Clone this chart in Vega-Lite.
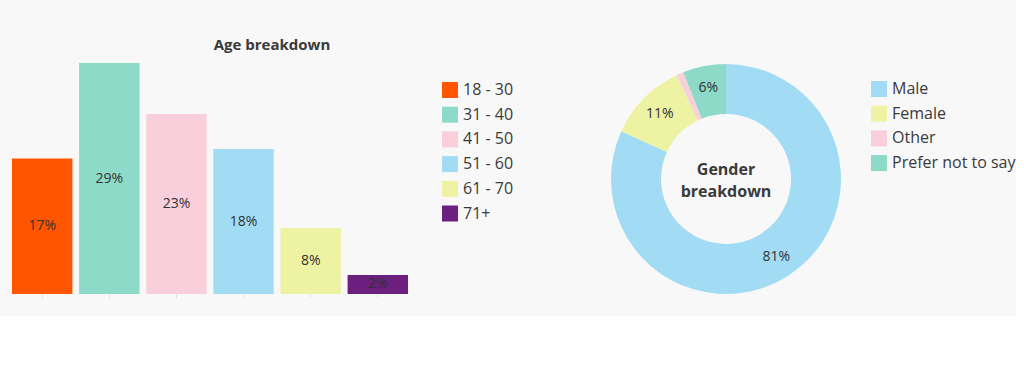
{
  "$schema": "https://vega.github.io/schema/vega-lite/v6.json",
  "background": "#f8f8f8",
  "padding": {"left": 12, "top": 38, "right": 0, "bottom": 18},
  "config": {"view": {"stroke": null}, "font": "Open Sans"},
  "bounds": "flush",
  "spacing": 203,
  "resolve": {"scale": {"color": "independent"}, "legend": {"color": "independent"}},
  "hconcat": [
    {
      "width": 396,
      "height": 231,
      "title": {"text": "Age breakdown", "fontSize": 15, "fontWeight": "bold", "color": "#3a3a3a", "dx": 62, "offset": 10},
      "data": {"values": [
        {"age": "18 - 30", "share": 0.17},
        {"age": "31 - 40", "share": 0.29},
        {"age": "41 - 50", "share": 0.226},
        {"age": "51 - 60", "share": 0.182},
        {"age": "61 - 70", "share": 0.083},
        {"age": "71+", "share": 0.024}
      ]},
      "layer": [
        {
          "mark": {"type": "bar"},
          "encoding": {
            "x": {"field": "age", "type": "nominal", "sort": null, "scale": {"paddingInner": 0.1, "paddingOuter": 0},
                  "axis": {"title": null, "labels": false, "domain": false, "ticks": true, "tickColor": "#dddddd", "tickSize": 3}},
            "y": {"field": "share", "type": "quantitative", "scale": {"domain": [0, 0.29]}, "axis": null},
            "color": {"field": "age", "type": "nominal",
                      "scale": {"domain": ["18 - 30", "31 - 40", "41 - 50", "51 - 60", "61 - 70", "71+"],
                                "range": ["#ff5500", "#8ddac8", "#f8cfdb", "#a1dcf4", "#eef2a3", "#6c1f7e"]},
                      "legend": {"title": null, "orient": "none", "legendX": 430, "legendY": 19, "padding": 0,
                                 "symbolType": "square", "symbolSize": 256, "symbolStrokeWidth": 0, "symbolOpacity": 1,
                                 "labelFontSize": 16, "labelColor": "#3a3a3a", "rowPadding": 8.7, "labelOffset": 5}}
          }
        },
        {
          "mark": {"type": "text", "fontSize": 14, "color": "#333333"},
          "encoding": {
            "x": {"field": "age", "type": "nominal", "sort": null},
            "y": {"field": "share", "type": "quantitative", "scale": {"domain": [0, 0.58]}, "axis": null},
            "text": {"field": "share", "type": "quantitative", "format": ".0%"}
          }
        }
      ],
      "resolve": {"scale": {"y": "independent"}}
    },
    {
      "width": 230,
      "height": 232,
      "data": {"values": [
        {"gender": "Male", "share": 0.81, "rank": 1, "label": "81%"},
        {"gender": "Female", "share": 0.11, "rank": 2, "label": "11%"},
        {"gender": "Other", "share": 0.01, "rank": 3, "label": ""},
        {"gender": "Prefer not to say", "share": 0.06, "rank": 4, "label": "6%"}
      ]},
      "layer": [
        {
          "mark": {"type": "arc", "innerRadius": 65, "outerRadius": 115},
          "encoding": {
            "theta": {"field": "share", "type": "quantitative", "stack": true},
            "order": {"field": "rank", "type": "quantitative"},
            "color": {"field": "gender", "type": "nominal",
                      "scale": {"domain": ["Male", "Female", "Other", "Prefer not to say"],
                                "range": ["#a1dcf4", "#eef2a3", "#f8cfdb", "#8ddac8"]},
                      "legend": {"title": null, "orient": "none", "legendX": 260, "legendY": 18, "padding": 0,
                                 "symbolType": "square", "symbolSize": 256, "symbolStrokeWidth": 0, "symbolOpacity": 1,
                                 "labelFontSize": 16, "labelColor": "#3a3a3a", "rowPadding": 8.7, "labelOffset": 5, "labelLimit": 200}}
          }
        },
        {
          "mark": {"type": "text", "radius": 93, "fontSize": 14, "color": "#333333"},
          "encoding": {
            "theta": {"field": "share", "type": "quantitative", "stack": true},
            "order": {"field": "rank", "type": "quantitative"},
            "text": {"field": "label", "type": "nominal"}
          }
        },
        {
          "data": {"values": [{"t": "Gender breakdown"}]},
          "mark": {"type": "text", "fontSize": 16, "fontWeight": "bold", "lineBreak": " ", "lineHeight": 22, "dy": -9, "color": "#3a3a3a"},
          "encoding": {"text": {"field": "t", "type": "nominal"}}
        }
      ]
    }
  ]
}
